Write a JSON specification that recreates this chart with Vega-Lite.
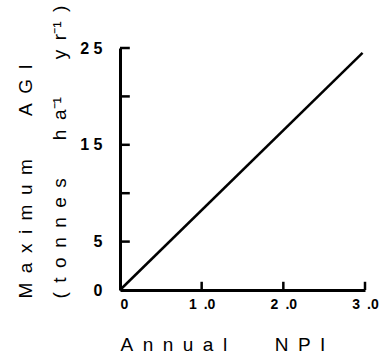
{
  "$schema": "https://vega.github.io/schema/vega-lite/v6.json",
  "autosize": "none",
  "width": 245,
  "height": 242,
  "padding": {"left": 120, "top": 48, "right": 18, "bottom": 70},
  "background": "white",
  "config": {
    "view": {"stroke": null},
    "font": "Liberation Sans",
    "axis": {
      "grid": false,
      "domainColor": "black",
      "tickColor": "black",
      "labelColor": "black",
      "titleColor": "black",
      "labelFont": "Liberation Sans",
      "titleFont": "Liberation Sans",
      "labelFontWeight": "bold",
      "titleFontWeight": "normal",
      "labelOverlap": false,
      "labelFlush": false
    }
  },
  "datasets": {
    "curve": [
      {"npi": 0, "agi": 0},
      {"npi": 2.97, "agi": 24.5}
    ],
    "xticks": [{"npi": 1}, {"npi": 2}, {"npi": 3}],
    "yticks": [{"agi": 5}, {"agi": 10}, {"agi": 15}, {"agi": 20}, {"agi": 25}]
  },
  "layer": [
    {
      "data": {"name": "curve"},
      "mark": {"type": "line", "color": "black", "strokeWidth": 2.5},
      "encoding": {
        "x": {
          "field": "npi",
          "type": "quantitative",
          "scale": {"domain": [0, 3], "nice": false},
          "axis": {
            "values": [0, 1, 2, 3],
            "labelExpr": "datum.value == 0 ? '0' : format(datum.value, '.0f') + '\u2002.0'",
            "labelAlign": {"condition": {"test": "datum.value == 0", "value": "left"}, "value": "center"},
            "ticks": false,
            "domainWidth": 3,
            "labelPadding": 7,
            "labelFontSize": 14,
            "title": "A\u2002n\u2002n\u2002u\u2002a\u2002l\u2002\u2002\u2002\u2002\u2002N\u2002P\u2002I",
            "titleFontSize": 19,
            "titleAnchor": "start",
            "titleAlign": "left",
            "titleBaseline": "top",
            "titleX": 0,
            "titleY": 45
          }
        },
        "y": {
          "field": "agi",
          "type": "quantitative",
          "scale": {"domain": [0, 25], "nice": false},
          "axis": {
            "values": [0, 5, 10, 15, 20, 25],
            "labelExpr": "datum.value == 25 ? '2 5' : datum.value == 15 ? '1 5' : datum.value == 5 ? '5' : datum.value == 0 ? '0' : ''",
            "ticks": false,
            "domainWidth": 3,
            "labelPadding": 18,
            "labelFontSize": 16,
            "title": ["M\u2002a\u2002x\u2002i\u2002m\u2002u\u2002m\u2002\u2002\u2002\u2002\u00a0A\u2002G\u2002I", "(\u2002t\u2002o\u2002n\u2002n\u2002e\u2002s\u2002\u2002\u2002\u2002h\u2002a\u207b\u00b9\u2002\u2002\u2002\u2002y\u2002r\u207b\u00b9\u2002)"],
            "titleFontSize": 19,
            "titleAngle": -90,
            "titleAlign": "left",
            "titleBaseline": "top",
            "titleLineHeight": 34,
            "titleX": -104,
            "titleY": 250
          }
        }
      }
    },
    {
      "data": {"name": "xticks"},
      "mark": {"type": "rule", "color": "black", "strokeWidth": 2.5},
      "encoding": {
        "x": {"field": "npi", "type": "quantitative"},
        "y": {"datum": 0},
        "y2": {"datum": 0.85}
      }
    },
    {
      "data": {"name": "yticks"},
      "mark": {"type": "rule", "color": "black", "strokeWidth": 2.5},
      "encoding": {
        "y": {"field": "agi", "type": "quantitative"},
        "x": {"datum": 0},
        "x2": {"datum": 0.12}
      }
    }
  ]
}
